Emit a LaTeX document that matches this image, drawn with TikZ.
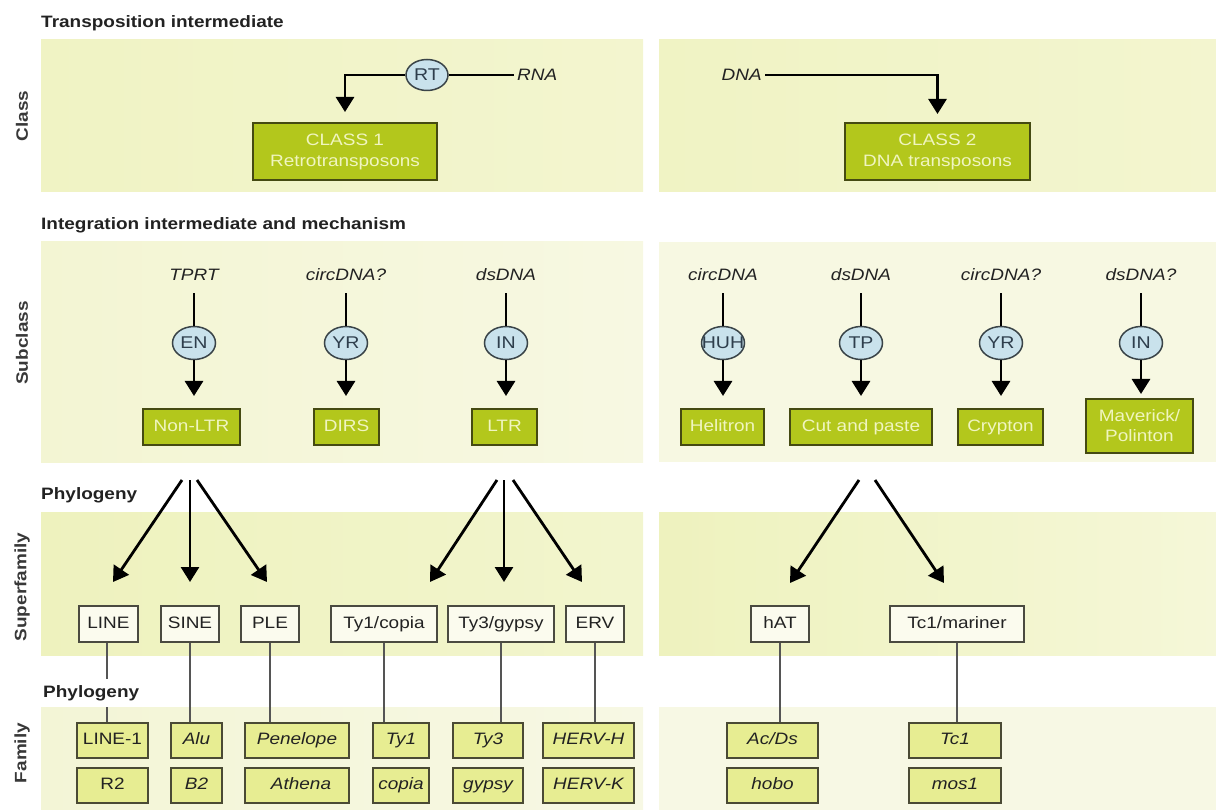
\documentclass[tikz,border=0pt]{standalone}
\usepackage{fontspec}
\setmainfont{Liberation Sans}[FakeStretch=1.15]
\usetikzlibrary{arrows.meta,shapes.geometric,calc}
\definecolor{bandA}{HTML}{F0F3C4}
\definecolor{bandA2}{HTML}{F3F5CF}
\definecolor{bandB}{HTML}{F3F5D3}
\definecolor{bandB2}{HTML}{F7F8E2}
\definecolor{bandC}{HTML}{EEF2BE}
\definecolor{bandC2}{HTML}{F5F7D8}
\definecolor{bandD}{HTML}{F3F5D6}
\definecolor{bandD2}{HTML}{F7F8E4}
\definecolor{clsfill}{HTML}{B3C71C}
\definecolor{clsborder}{HTML}{454A12}
\definecolor{clstext}{HTML}{F0F5C0}
\definecolor{enzfill}{HTML}{C9E2EC}
\definecolor{enzborder}{HTML}{3A4448}
\definecolor{enztext}{HTML}{2E3E4C}
\definecolor{sffill}{HTML}{FBFBEE}
\definecolor{sfborder}{HTML}{4A4A40}
\definecolor{famfill}{HTML}{E7ED92}
\definecolor{famborder}{HTML}{4A4A34}
\definecolor{connc}{HTML}{555555}
\definecolor{txt}{HTML}{222222}
\begin{document}
\begin{tikzpicture}[x=1pt,y=-1pt,
  every node/.style={font=\fontsize{16.5}{19}\selectfont, text=txt},
  hdr/.style={anchor=west, inner sep=0pt, font=\fontsize{16.5}{19}\selectfont\bfseries},
  rowlab/.style={rotate=90, inner sep=0pt, font=\fontsize{16.5}{19}\selectfont\bfseries, text=txt!90},
  clsbox/.style={draw=clsborder, line width=2pt, fill=clsfill, text=clstext, inner sep=0pt, align=center, font=\fontsize{16.5}{21}\selectfont},
  clsone/.style={clsbox, text height=12pt, text depth=3.5pt},
  enz/.style={ellipse, draw=enzborder, line width=1.5pt, fill=enzfill, text=enztext, inner sep=0pt, minimum width=43pt, minimum height=33pt, font=\fontsize{17}{19}\selectfont},
  mech/.style={inner sep=0pt, text height=12pt, text depth=0pt, font=\fontsize{16.5}{19}\selectfont\itshape},
  sfbox/.style={draw=sfborder, line width=1.8pt, fill=sffill, inner sep=0pt, minimum height=36pt, text height=12pt, text depth=3.5pt},
  fambox/.style={draw=famborder, line width=1.8pt, fill=famfill, inner sep=0pt, minimum height=35pt, text height=12pt, text depth=3.5pt},
  famit/.style={fambox, font=\fontsize{16.5}{19}\selectfont\itshape},
  bigarrow/.style={line width=2.8pt, -{Triangle[width=18pt,length=15pt]}},
  plainline/.style={line width=2.8pt},
  conn/.style={line width=1.6pt, draw=connc}
]
\useasboundingbox (0,0) rectangle (1216,810);
% ---------- bands
\fill[left color=bandA, right color=bandA2] (41,40) rectangle (643,192);
\fill[left color=bandA, right color=bandA2] (659,40) rectangle (1216,192);
\fill[left color=bandB, right color=bandB2] (41,242) rectangle (643,462);
\fill[bandB2] (659,242) rectangle (1216,462);
\fill[left color=bandC, right color=bandC2!60!bandC] (41,512) rectangle (643,655);
\fill[left color=bandC, right color=bandC2] (659,512) rectangle (1216,655);
\fill[left color=bandD, right color=bandD2] (41,707) rectangle (643,810);
\fill[bandD2] (659,707) rectangle (1216,810);
% ---------- headers and row labels
\node[hdr] (h1) at (41,23) {Transposition intermediate};
\node[hdr] (h2) at (41,225) {Integration intermediate and mechanism};
\node[hdr] (h3) at (41,495) {Phylogeny};
\node[rowlab] (r1) at (22,116) {Class};
\node[rowlab] (r2) at (22,343) {Subclass};
\node[rowlab] (r3) at (22,587) {Superfamily};
\node[rowlab] (r4) at (22,753) {Family};
% ---------- class row
\node[enz, minimum width=42pt, minimum height=31pt] (rt) at (427,75) {\makebox[0pt]{RT}};
\node[mech, anchor=west, inner xsep=3pt] (rna) at (514,75) {RNA};
\node[clsbox, minimum width=184pt, minimum height=57pt] (class1) at (345,151.5) {CLASS 1\\Retrotransposons};
\draw[plainline] (rt.east) -- (rna.west);
\draw[bigarrow, shorten >=10pt] (rt.west) -| (class1.north);
\node[mech, anchor=east, inner xsep=3pt] (dna) at (765,75) {DNA};
\node[clsbox, minimum width=185pt, minimum height=57pt] (class2) at (937.5,151.5) {CLASS 2\\DNA transposons};
\draw[bigarrow, shorten >=8pt] (dna.east) -| (class2.north);
% ---------- subclass row
\foreach \n/\x/\lab/\enzn in {1/194/TPRT/EN, 2/346/circDNA?/YR, 3/506/dsDNA/IN, 4/723/circDNA/HUH, 5/861/dsDNA/TP, 6/1001/circDNA?/YR, 7/1141/dsDNA?/IN}{
  \node[mech] (m\n) at (\x,275) {\lab};
  \node[enz] (c\n) at (\x,343) {\makebox[0pt]{\enzn}};
}
\node[clsone, minimum width=97pt, minimum height=36pt] (s1) at (191.5,427) {Non-LTR};
\node[clsone, minimum width=65pt, minimum height=36pt] (s2) at (346.5,427) {DIRS};
\node[clsone, minimum width=65pt, minimum height=36pt] (s3) at (504.5,427) {LTR};
\node[clsone, minimum width=83pt, minimum height=36pt] (s4) at (722.5,427) {Helitron};
\node[clsone, minimum width=142pt, minimum height=36pt] (s5) at (861,427) {Cut and paste};
\node[clsone, minimum width=85pt, minimum height=36pt] (s6) at (1000.5,427) {Crypton};
\node[clsbox, minimum width=107pt, minimum height=54pt, font=\fontsize{16.5}{20}\selectfont] (s7) at (1139.5,426) {Maverick/\\Polinton};
\foreach \n in {1,...,7}{
  \draw[plainline, shorten <=12pt] (m\n.south) -- (c\n.north);
}
\foreach \n in {1,...,6}{
  \draw[bigarrow, shorten >=12pt] (c\n.south) -- (c\n.south |- s\n.north);
}
\draw[bigarrow, shorten >=4pt] (c7.south) -- (c7.south |- s7.north);
% ---------- phylogeny arrows
\coordinate (a1s) at (182,480); \coordinate (a1e) at (113,582);
\coordinate (a2s) at (190,480); \coordinate (a2e) at (190,582);
\coordinate (a3s) at (197,480); \coordinate (a3e) at (267,582);
\coordinate (a4s) at (497,480); \coordinate (a4e) at (430,582);
\coordinate (a5s) at (504,480); \coordinate (a5e) at (504,582);
\coordinate (a6s) at (513,480); \coordinate (a6e) at (582,582);
\coordinate (a7s) at (859,480); \coordinate (a7e) at (790,583);
\coordinate (a8s) at (875,480); \coordinate (a8e) at (944,583);
\foreach \n in {1,...,8}{
  \draw[bigarrow] (a\n s) -- (a\n e);
}
% ---------- superfamily
\node[sfbox, minimum width=59pt] (sf1) at (108.5,624) {LINE};
\node[sfbox, minimum width=58pt] (sf2) at (190,624) {SINE};
\node[sfbox, minimum width=58pt] (sf3) at (270,624) {PLE};
\node[sfbox, minimum width=106pt] (sf4) at (384,624) {Ty1/copia};
\node[sfbox, minimum width=106pt] (sf5) at (501,624) {Ty3/gypsy};
\node[sfbox, minimum width=58pt] (sf6) at (595,624) {ERV};
\node[sfbox, minimum width=58pt] (sf7) at (780,624) {hAT};
\node[sfbox, minimum width=134pt] (sf8) at (957,624) {Tc1/mariner};
% ---------- family
\node[fambox, minimum width=71pt] (fa1) at (112.5,740.5) {LINE-1};
\node[fambox, minimum width=71pt] (fb1) at (112.5,785.5) {R2};
\node[famit, minimum width=51pt] (fa2) at (196.5,740.5) {Alu};
\node[famit, minimum width=51pt] (fb2) at (196.5,785.5) {B2};
\node[famit, minimum width=104pt] (fa3) at (297,740.5) {Penelope};
\node[famit, minimum width=104pt] (fb3) at (297,785.5) {\hspace{8pt}Athena};
\node[famit, minimum width=56pt] (fa4) at (401,740.5) {Ty1};
\node[famit, minimum width=56pt] (fb4) at (401,785.5) {copia};
\node[famit, minimum width=70pt] (fa5) at (488,740.5) {Ty3};
\node[famit, minimum width=70pt] (fb5) at (488,785.5) {gypsy};
\node[famit, minimum width=91pt] (fa6) at (588.5,740.5) {HERV-H};
\node[famit, minimum width=91pt] (fb6) at (588.5,785.5) {HERV-K};
\node[famit, minimum width=91pt] (fa7) at (772.5,740.5) {Ac/Ds};
\node[famit, minimum width=91pt] (fb7) at (772.5,785.5) {hobo};
\node[famit, minimum width=92pt] (fa8) at (955,740.5) {Tc1};
\node[famit, minimum width=92pt] (fb8) at (955,785.5) {mos1};
\draw[conn] (sf1.south) ++(-1.5,0) coordinate (l1s) -- (l1s |- fa1.north);
\foreach \n in {2,...,8}{
  \draw[conn] (sf\n.south) -- (sf\n.south |- fa\n.north);
}
\node[hdr, fill=white, inner xsep=0pt, inner ysep=6pt, anchor=west] (h4) at (43,693) {Phylogeny};
\end{tikzpicture}
\end{document}
